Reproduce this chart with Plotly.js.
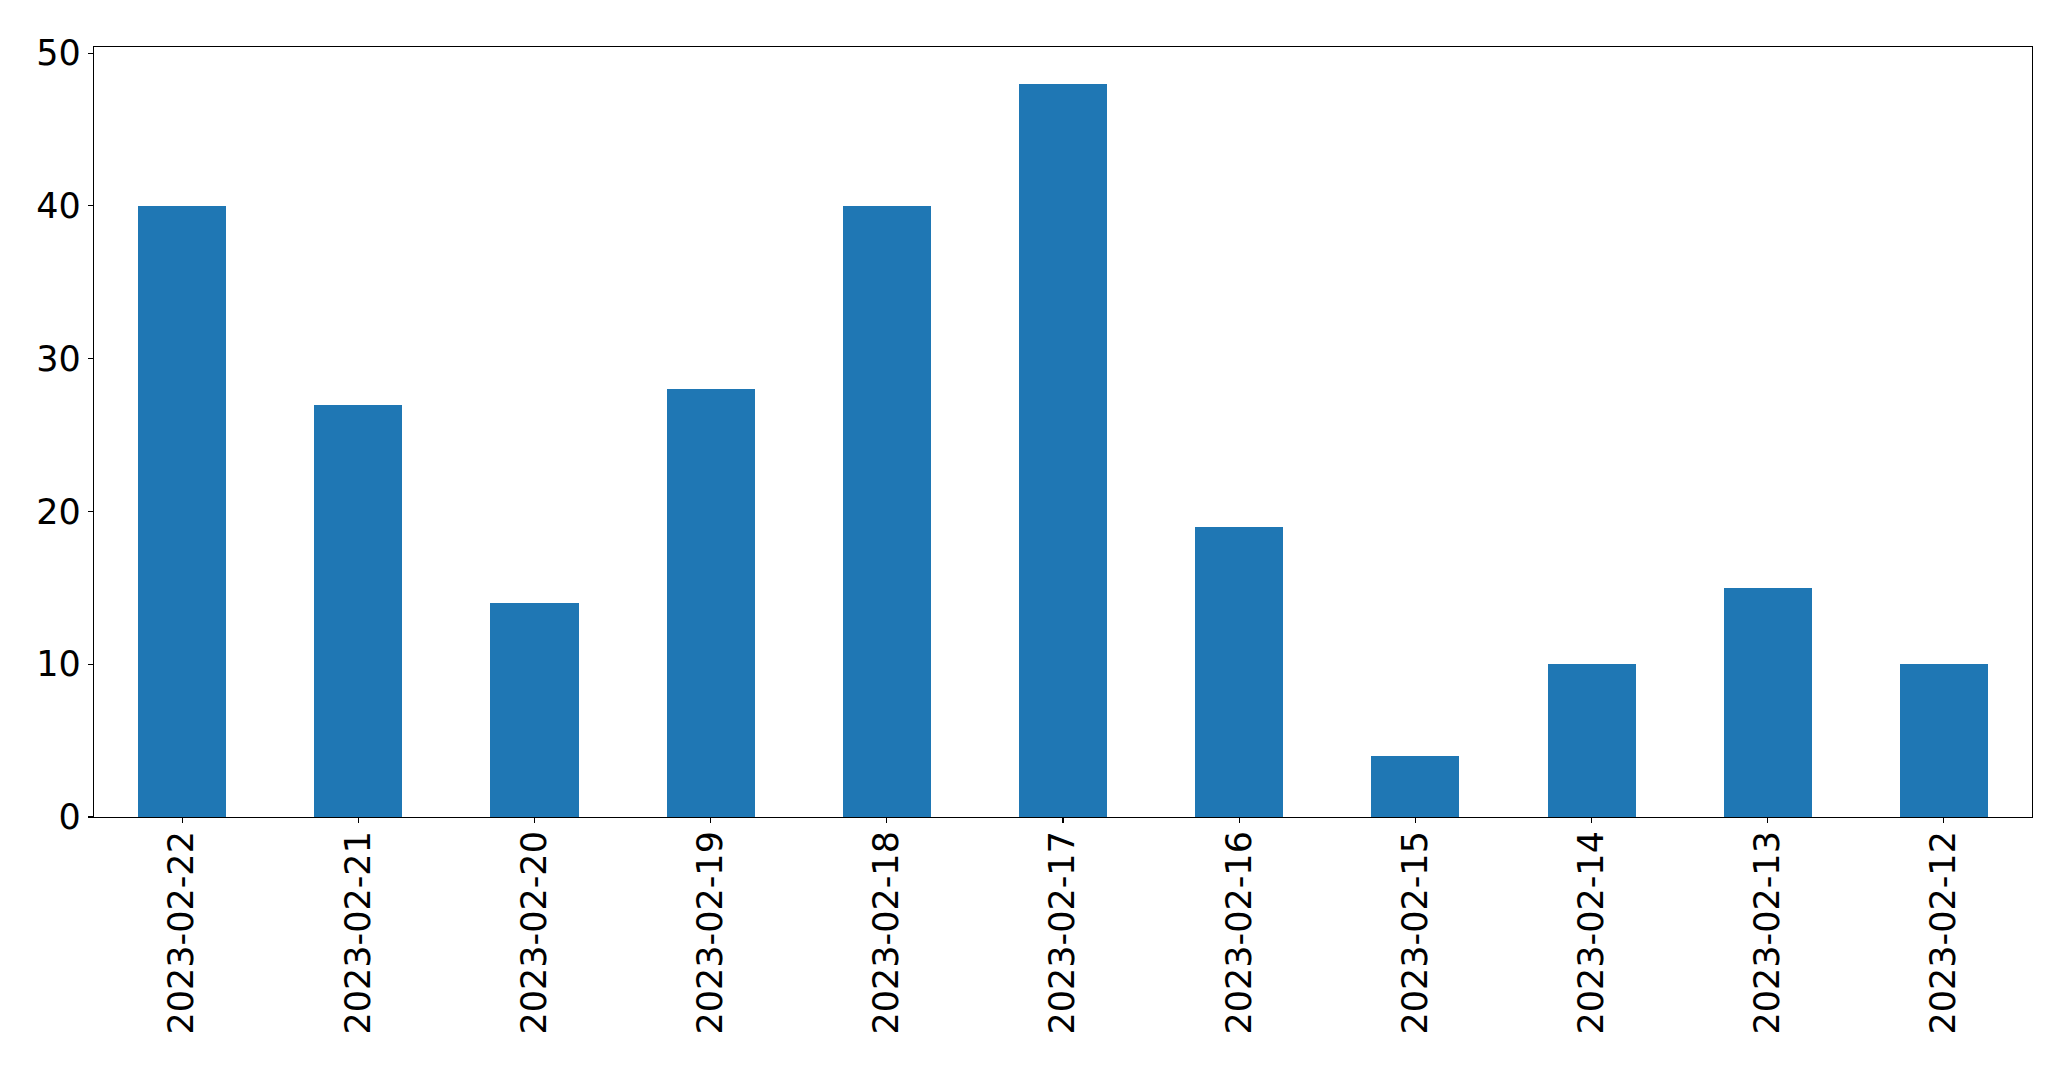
<!DOCTYPE html>
<html>
<head>
<meta charset="utf-8">
<script src="https://cdn.plot.ly/plotly-3.0.1.min.js"></script>
<style>html,body{margin:0;padding:0;background:#fff;}#chart{width:2071px;height:1069px;}</style>
</head>
<body>
<div id="chart"></div>
<script>
const dates = ["2023-02-22","2023-02-21","2023-02-20","2023-02-19","2023-02-18","2023-02-17","2023-02-16","2023-02-15","2023-02-14","2023-02-13","2023-02-12"];
const counts = [40, 27, 14, 28, 40, 48, 19, 4, 10, 15, 10];
const yTicks = [0, 10, 20, 30, 40, 50];

const trace = {
  type: 'bar',
  x: dates,
  y: counts,
  width: 0.5,
  marker: {color: '#1f77b4', line: {width: 0}},
  hoverinfo: 'x+y'
};

const font = {family: 'DejaVu Sans, sans-serif', size: 35, color: '#000'};

const layout = {
  width: 2071,
  height: 1069,
  margin: {l: 94, r: 39, t: 47, b: 252, pad: 0},
  paper_bgcolor: '#fff',
  plot_bgcolor: '#fff',
  showlegend: false,
  font: font,
  bargap: 0,
  xaxis: {
    type: 'category',
    range: [-0.5, 10.5],
    tickangle: -90,
    ticks: 'outside',
    ticklen: 5,
    tickwidth: 1.1,
    tickcolor: '#000',
    ticklabelstandoff: -6,
    showline: true,
    mirror: true,
    linecolor: '#000',
    linewidth: 1.1,
    showgrid: false,
    zeroline: false,
    tickfont: font,
    fixedrange: true
  },
  yaxis: {
    range: [0, 50.4],
    tickvals: yTicks,
    ticktext: yTicks.map(String),
    ticks: 'outside',
    ticklen: 5,
    tickwidth: 1.1,
    tickcolor: '#000',
    showline: true,
    mirror: true,
    linecolor: '#000',
    linewidth: 1.1,
    showgrid: false,
    zeroline: false,
    tickfont: font,
    fixedrange: true
  }
};

Plotly.newPlot('chart', [trace], layout, {displayModeBar: false, staticPlot: true});
</script>
</body>
</html>
